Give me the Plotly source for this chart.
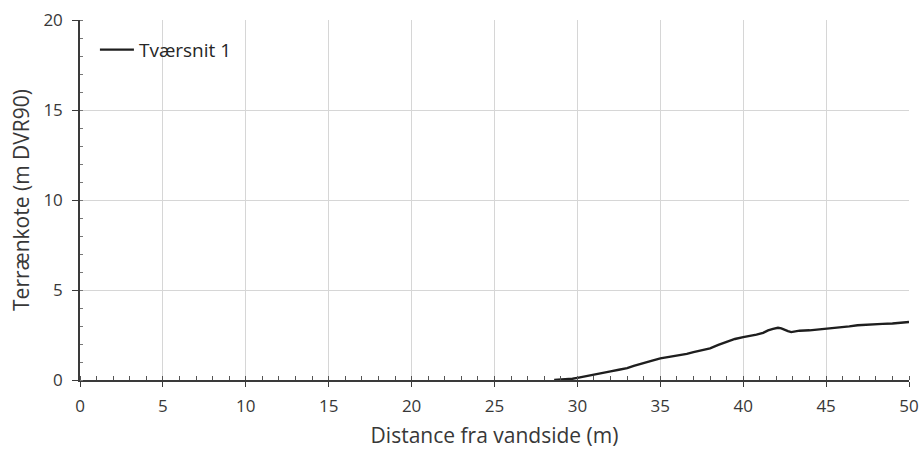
import plotly.graph_objects as go

# Terrain profile "Tværsnit 1"
distance = [28.6, 29.2, 29.7, 30.0, 30.5, 31.0, 31.4, 32.0, 32.5, 33.0, 33.4, 33.8,
            34.3, 35.0, 35.6, 36.2, 36.6, 37.0, 37.5, 38.0, 38.5, 39.0, 39.5, 40.0,
            40.4, 40.8, 41.2, 41.5, 41.8, 42.1, 42.3, 42.5, 42.7, 42.9, 43.2, 43.4,
            44.0, 44.5, 45.0, 45.7, 46.4, 46.9, 47.4, 47.9, 48.4, 49.0, 49.5, 50.0]
elevation = [0.0, 0.03, 0.07, 0.12, 0.2, 0.3, 0.38, 0.48, 0.57, 0.66, 0.78, 0.9,
             1.02, 1.2, 1.3, 1.36, 1.45, 1.55, 1.65, 1.76, 1.95, 2.12, 2.28, 2.38,
             2.43, 2.52, 2.62, 2.76, 2.84, 2.9, 2.87, 2.78, 2.72, 2.66, 2.7, 2.74,
             2.76, 2.8, 2.85, 2.92, 2.98, 3.04, 3.08, 3.1, 3.12, 3.14, 3.16, 3.22]

series_name = "Tværsnit 1"
x_title = "Distance fra vandside (m)"
y_title = "Terrænkote (m DVR90)"

font_family = "Open Sans, Liberation Sans, sans-serif"
text_color = "#383838"

fig = go.Figure()
fig.add_trace(go.Scatter(
    x=distance, y=elevation, mode="lines", name=series_name,
    line=dict(color="#1e1e1e", width=2.4),
))

fig.update_layout(
    width=923, height=454,
    margin=dict(l=80, r=14, t=20, b=74),
    paper_bgcolor="white", plot_bgcolor="white",
    font=dict(family=font_family, size=17, color=text_color),
    showlegend=True,
    legend=dict(x=0.018, y=0.97, xanchor="left", yanchor="top",
                bgcolor="rgba(0,0,0,0)", font=dict(size=19, color="#262626"),
                itemwidth=34),
)

fig.update_xaxes(
    range=[0, 50], tick0=0, dtick=5,
    automargin=False,
    showgrid=True, gridcolor="#d6d6d6", gridwidth=1,
    showline=True, linecolor="#3a3a3a", linewidth=1.5,
    ticks="outside", ticklen=5, tickcolor="#3a3a3a",
    ticklabelstandoff=5,
    minor=dict(dtick=1, ticks="inside", ticklen=4, tickcolor="#555555", showgrid=False),
    zeroline=False,
    title=dict(text=x_title, font=dict(size=21, color=text_color), standoff=12),
    tickfont=dict(size=17, color=text_color),
)
fig.update_yaxes(
    range=[0, 20], tick0=0, dtick=5,
    automargin=False,
    showgrid=True, gridcolor="#d6d6d6", gridwidth=1,
    showline=True, linecolor="#3a3a3a", linewidth=1.5,
    ticks="outside", ticklen=6, tickcolor="#3a3a3a",
    ticklabelstandoff=6,
    minor=dict(dtick=1, ticks="inside", ticklen=3, tickcolor="#777777", showgrid=False),
    zeroline=False,
    title=dict(text=y_title, font=dict(size=21, color=text_color), standoff=8),
    tickfont=dict(size=17, color=text_color),
)

fig.write_html("out.html")
